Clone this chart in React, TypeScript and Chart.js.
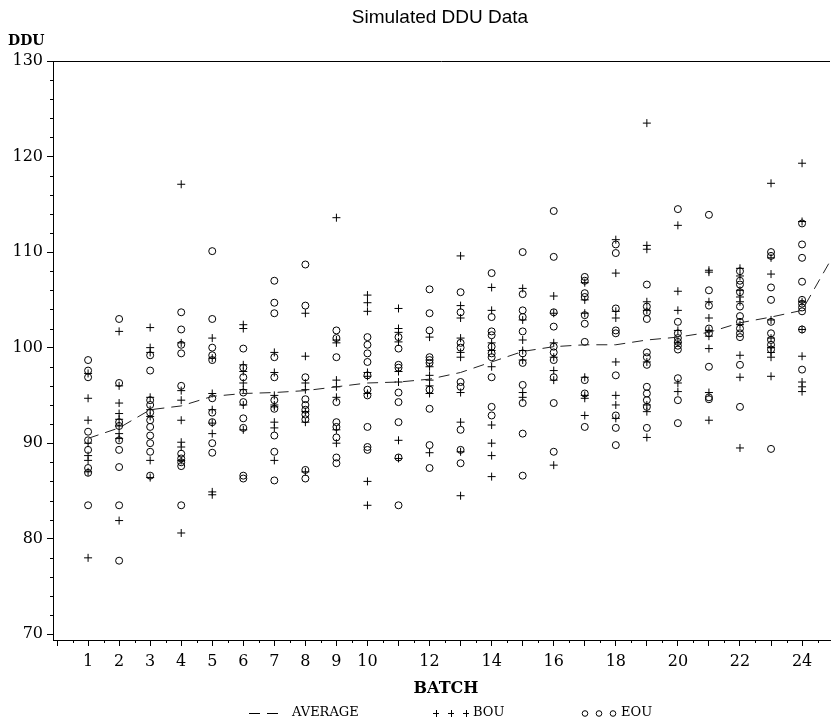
import { useEffect, useRef } from 'react';
import { Chart, registerables } from 'chart.js';

Chart.register(...registerables);

// ---------- data ----------
const BATCHES = [1, 2, 3, 4, 5, 6, 7, 8, 9, 10, 11, 12, 13, 14, 15, 16, 17, 18, 19, 20, 21, 22, 23, 24];
const X_MAJOR_TICKS = [0, 1, 2, 3, 4, 5, 6, 7, 8, 9, 10, 11, 12, 13, 14, 15, 16, 17, 18, 19, 20, 21, 22, 23, 24];
const X_TICK_LABELS = ['1', '2', '3', '4', '5', '6', '7', '8', '9', '10', '12', '14', '16', '18', '20', '22', '24'];
const Y_TICKS = [70, 80, 90, 100, 110, 120, 130];

const BOU: number[][] = [
  [97.3, 94.7, 92.4, 90.0, 88.7, 88.2, 87.0, 78.0],
  [101.7, 96.0, 94.2, 93.1, 92.5, 91.8, 91.0, 90.5, 81.9],
  [102.1, 100.0, 99.5, 94.8, 93.5, 92.8, 88.2, 86.4],
  [117.1, 100.5, 95.5, 94.5, 92.4, 90.1, 89.6, 88.2, 80.6],
  [101.0, 98.9, 95.2, 93.5, 92.1, 91.0, 84.9, 84.6],
  [102.4, 102.0, 98.2, 97.5, 96.3, 95.6, 94.0, 91.4],
  [99.5, 97.4, 95.0, 94.0, 93.8, 92.2, 91.6, 88.2],
  [103.6, 99.1, 96.3, 95.6, 93.3, 92.2, 87.0],
  [113.6, 100.8, 100.5, 96.6, 95.9, 94.8, 91.4, 90.0],
  [105.5, 104.7, 103.8, 97.4, 97.0, 95.2, 86.0, 83.5],
  [104.1, 102.0, 101.6, 100.6, 97.5, 96.4, 90.3, 88.4],
  [101.1, 98.0, 97.1, 96.6, 96.0, 95.2, 89.0],
  [109.6, 104.4, 103.1, 101.0, 99.5, 99.0, 95.3, 92.2, 89.1, 84.5],
  [106.3, 103.9, 100.5, 99.7, 98.0, 91.9, 90.0, 88.7, 86.5],
  [106.2, 102.9, 100.8, 99.7, 98.7, 95.3, 94.8],
  [105.4, 103.6, 100.5, 99.0, 97.6, 96.6, 87.7],
  [106.8, 105.0, 103.6, 96.9, 95.0, 94.7, 92.9],
  [111.3, 107.8, 103.8, 103.1, 98.5, 95.0, 94.0, 92.6],
  [123.5, 110.7, 110.3, 104.8, 103.9, 98.5, 94.0, 93.3, 90.6],
  [112.8, 105.9, 103.9, 101.8, 100.5, 96.3, 95.4],
  [108.1, 107.9, 104.8, 103.1, 101.8, 101.2, 99.9, 95.3, 92.4],
  [108.3, 107.5, 106.0, 105.3, 104.8, 102.4, 99.2, 96.9, 89.5],
  [117.2, 109.4, 107.7, 102.9, 101.0, 100.0, 99.5, 99.0, 97.0],
  [119.3, 113.2, 104.8, 101.9, 99.1, 96.4, 95.9, 95.4],
];

const EOU: number[][] = [
  [98.7, 97.6, 96.9, 91.2, 90.3, 89.3, 87.4, 86.9, 83.5],
  [103.0, 96.3, 92.2, 91.8, 90.3, 89.3, 87.5, 83.5, 77.7],
  [99.2, 97.6, 94.5, 94.0, 93.2, 92.4, 91.7, 90.8, 90.0, 89.1, 86.6],
  [103.7, 101.9, 100.3, 99.4, 96.0, 88.9, 88.4, 88.0, 87.6, 83.5],
  [110.1, 103.0, 100.0, 99.2, 98.7, 94.7, 93.2, 92.2, 90.0, 89.0],
  [99.9, 97.9, 96.9, 95.3, 94.3, 92.6, 91.6, 86.6, 86.3],
  [107.0, 104.7, 103.6, 99.0, 96.9, 94.5, 93.6, 90.8, 89.1, 86.1],
  [108.7, 104.4, 96.9, 94.6, 94.0, 93.5, 93.0, 92.5, 87.2, 86.3],
  [101.8, 101.0, 99.0, 94.3, 92.2, 91.7, 90.6, 88.5, 87.9],
  [101.1, 100.3, 99.4, 98.5, 97.1, 95.6, 95.0, 91.7, 89.6, 89.3],
  [101.1, 99.9, 98.2, 97.9, 95.3, 94.3, 92.2, 88.5, 83.5],
  [106.1, 103.6, 101.8, 99.0, 98.7, 98.4, 95.6, 93.6, 89.8, 87.4],
  [105.8, 103.7, 100.5, 100.0, 96.4, 95.9, 91.4, 89.3, 87.9],
  [107.8, 103.2, 101.7, 101.3, 100.1, 99.4, 99.0, 96.9, 93.8, 92.9],
  [110.0, 105.6, 103.9, 103.2, 101.7, 99.4, 98.4, 96.1, 94.2, 91.0, 86.6],
  [114.3, 109.5, 103.7, 102.2, 100.1, 99.5, 98.7, 96.9, 94.2, 89.1],
  [107.4, 107.0, 105.7, 105.3, 103.4, 102.5, 100.6, 96.6, 95.2, 91.7],
  [110.8, 109.9, 104.1, 101.8, 101.5, 97.1, 92.9, 91.6, 89.8],
  [106.6, 104.3, 103.7, 103.0, 99.5, 99.0, 98.2, 95.9, 95.2, 94.5, 93.8, 91.6],
  [114.5, 102.7, 101.5, 101.0, 100.6, 100.2, 99.8, 96.8, 94.5, 92.1],
  [113.9, 106.0, 104.4, 102.0, 101.5, 98.0, 94.8, 94.6],
  [108.0, 107.0, 106.6, 105.8, 104.3, 103.3, 102.7, 102.0, 101.5, 101.1, 98.2, 93.8],
  [110.0, 109.6, 106.3, 105.0, 102.7, 101.5, 100.8, 100.3, 99.8, 89.4],
  [113.0, 110.8, 109.4, 106.9, 105.0, 104.6, 104.2, 103.8, 101.9, 97.7],
];

const AVERAGE_BATCHES = [1, 2, 3, 4, 5, 6, 7, 8, 9, 10, 11, 12, 13, 14, 15, 16, 17, 18, 19, 20, 21, 22, 23, 24, 25];
const AVERAGE = [90.5, 91.6, 93.5, 93.9, 94.9, 95.2, 95.3, 95.5, 95.9, 96.3, 96.4, 96.7, 97.4, 98.5, 99.6, 100.1, 100.3, 100.3, 100.8, 101.1, 101.6, 102.6, 103.2, 103.9, 109.6];

const SERIF = '"DejaVu Serif", "Liberation Serif", serif';
const SANS = '"Liberation Sans", Arial, sans-serif';

function labelFor(v: number): string {
  const s = String(v);
  return X_TICK_LABELS.includes(s) ? s : '';
}

const decorPlugin = {
  id: 'decor',
  afterDraw(chart: any) {
    const { ctx, chartArea, scales } = chart;
    const xs = scales.x;
    const ys = scales.y;
    ctx.save();
    ctx.strokeStyle = '#000';
    ctx.lineWidth = 1;
    // top frame
    ctx.beginPath();
    ctx.moveTo(chartArea.left, chartArea.top + 0.5);
    ctx.lineTo(chartArea.right, chartArea.top + 0.5);
    ctx.stroke();
    // minor x ticks
    ctx.beginPath();
    for (let k = 0; k <= 25; k++) {
      const v = k + 0.5;
      if (v < xs.min || v > xs.max) continue;
      const px = Math.round(xs.getPixelForValue(v)) + 0.5;
      ctx.moveTo(px, chartArea.bottom);
      ctx.lineTo(px, chartArea.bottom + 3);
    }
    // minor y ticks
    for (let v = 72; v < 130; v += 2) {
      if (v % 10 === 0) continue;
      const py = Math.round(ys.getPixelForValue(v)) + 0.5;
      ctx.moveTo(chartArea.left, py);
      ctx.lineTo(chartArea.left - 3, py);
    }
    ctx.stroke();

    ctx.fillStyle = '#000';
    // title
    ctx.font = `19px ${SANS}`;
    ctx.textAlign = 'center';
    ctx.textBaseline = 'middle';
    ctx.fillText('Simulated DDU Data', 440, 18);
    // y label
    ctx.font = `bold 14px ${SERIF}`;
    ctx.textAlign = 'left';
    ctx.fillText('DDU', 8, 41);
    // x label
    ctx.font = `bold 16px ${SERIF}`;
    ctx.textAlign = 'center';
    ctx.fillText('BATCH', 446, 689);

    // legend
    const ly = 713;
    ctx.font = `13px ${SERIF}`;
    ctx.textAlign = 'left';
    // average
    ctx.save();
    ctx.setLineDash([11, 7]);
    ctx.beginPath();
    ctx.moveTo(249, ly + 0.5);
    ctx.lineTo(285, ly + 0.5);
    ctx.stroke();
    ctx.restore();
    ctx.fillText('AVERAGE', 292, ly);
    // BOU
    ctx.beginPath();
    [436, 451, 466].forEach((cx) => {
      ctx.moveTo(cx - 3, ly + 0.5);
      ctx.lineTo(cx + 3, ly + 0.5);
      ctx.moveTo(cx + 0.5, ly - 3);
      ctx.lineTo(cx + 0.5, ly + 4);
    });
    ctx.stroke();
    ctx.fillText('BOU', 473, ly);
    // EOU
    [585, 599, 613].forEach((cx) => {
      ctx.beginPath();
      ctx.arc(cx, ly + 0.5, 2.8, 0, Math.PI * 2);
      ctx.stroke();
    });
    ctx.fillText('EOU', 621, ly);
    ctx.restore();
  },
};

export default function App() {
  const ref = useRef<HTMLCanvasElement | null>(null);

  useEffect(() => {
    if (!ref.current) return;
    const bouPts: { x: number; y: number }[] = [];
    const eouPts: { x: number; y: number }[] = [];
    BATCHES.forEach((b, i) => {
      BOU[i].forEach((v) => bouPts.push({ x: b, y: v }));
      EOU[i].forEach((v) => eouPts.push({ x: b, y: v }));
    });
    const avgPts = AVERAGE_BATCHES.map((b, i) => ({ x: b, y: AVERAGE[i] }));

    const chart = new Chart(ref.current, {
      type: 'scatter',
      data: {
        datasets: [
          {
            type: 'line',
            label: 'AVERAGE',
            data: avgPts,
            borderColor: '#222',
            borderWidth: 1,
            borderDash: [11, 7],
            pointRadius: 0,
            tension: 0,
            fill: false,
          } as any,
          {
            label: 'BOU',
            data: bouPts,
            pointStyle: 'cross',
            pointRadius: 4,
            borderColor: '#000',
            backgroundColor: 'rgba(0,0,0,0)',
            borderWidth: 1,
          },
          {
            label: 'EOU',
            data: eouPts,
            pointStyle: 'circle',
            pointRadius: 3.5,
            borderColor: '#000',
            backgroundColor: 'rgba(0,0,0,0)',
            borderWidth: 1,
          },
        ],
      },
      options: {
        responsive: false,
        animation: false,
        devicePixelRatio: 1,
        layout: { padding: { top: 61, left: 0, right: 0, bottom: 0 } },
        plugins: {
          legend: { display: false },
          tooltip: { enabled: false },
          title: { display: false },
        },
        scales: {
          x: {
            type: 'linear',
            position: 'bottom',
            min: -0.13,
            max: 24.9,
            afterBuildTicks: (scale: any) => {
              scale.ticks = X_MAJOR_TICKS.map((v) => ({ value: v }));
            },
            afterFit: (scale: any) => {
              scale.height = 85;
            },
            ticks: {
              autoSkip: false,
              maxRotation: 0,
              padding: 6,
              color: '#000',
              font: { family: SERIF, size: 16 },
              callback: (v: any) => labelFor(Number(v)),
            },
            grid: {
              drawOnChartArea: false,
              drawTicks: true,
              tickLength: 6,
              color: '#000',
              lineWidth: 1,
            },
            border: { display: true, color: '#000', width: 1 },
          },
          y: {
            type: 'linear',
            min: 69.4,
            max: 130,
            afterBuildTicks: (scale: any) => {
              scale.ticks = Y_TICKS.map((v) => ({ value: v }));
            },
            afterFit: (scale: any) => {
              scale.width = 53;
            },
            ticks: {
              padding: 4,
              color: '#000',
              font: { family: SERIF, size: 16 },
            },
            grid: {
              drawOnChartArea: false,
              drawTicks: true,
              tickLength: 6,
              color: '#000',
              lineWidth: 1,
            },
            border: { display: true, color: '#000', width: 1 },
          },
        },
      },
      plugins: [decorPlugin],
    });
    return () => chart.destroy();
  }, []);

  return (
    <div style={{ position: 'fixed', left: 0, top: 0, width: 835, height: 725, background: '#fff' }}>
      <canvas ref={ref} width={835} height={725} style={{ display: 'block', width: 835, height: 725 }} />
    </div>
  );
}
